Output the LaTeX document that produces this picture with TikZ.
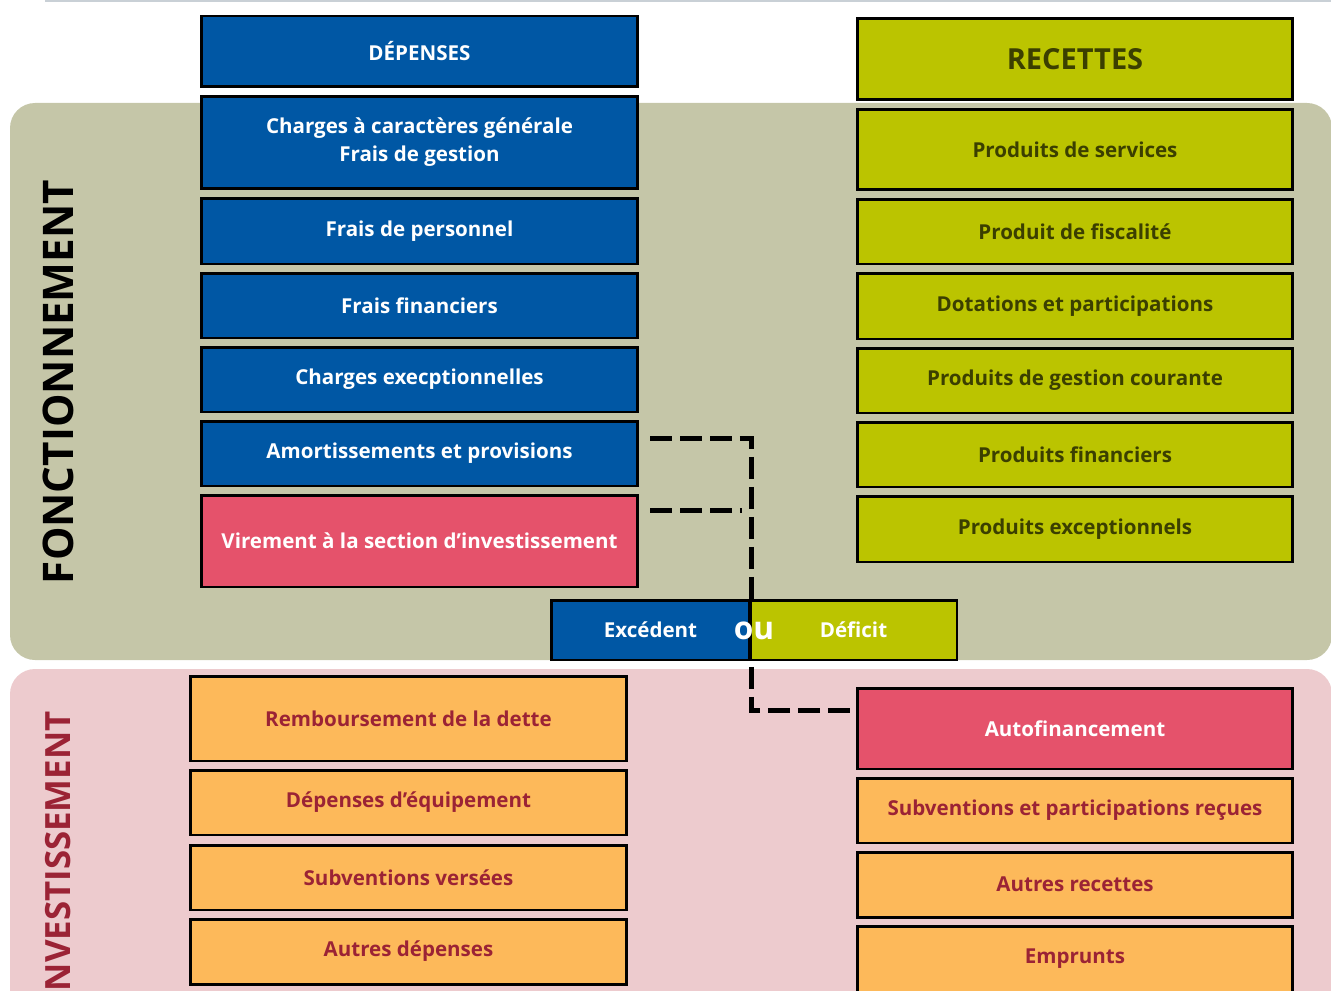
\documentclass[tikz,border=0pt]{standalone}
\usepackage{fontspec}
\setmainfont{Open Sans}
\usepackage{tikz}
\usetikzlibrary{positioning}

\definecolor{bleu}{HTML}{0057A4}
\definecolor{olive}{HTML}{BBC400}
\definecolor{olivetxt}{HTML}{3B3F00}
\definecolor{rose}{HTML}{E5526B}
\definecolor{orangeclair}{HTML}{FDB95A}
\definecolor{bordeaux}{HTML}{9B2335}
\definecolor{fondfonct}{HTML}{C5C6A8}
\definecolor{fondinv}{HTML}{EDCBCE}
\definecolor{filet}{HTML}{C9D0D6}

\begin{document}
\begin{tikzpicture}[x=0.02cm,y=-0.02cm,
  boite/.style={draw=black, line width=1.7pt, inner sep=0pt, align=center,
    font=\bfseries\fontsize{11.7}{16}\selectfont},
  gauche/.style={boite, minimum width=8.74cm},
  droite/.style={boite, minimum width=8.72cm},
  dep/.style={gauche, fill=bleu, text=white},
  rec/.style={droite, fill=olive, text=olivetxt},
  invg/.style={gauche, fill=orangeclair, text=bordeaux},
  invd/.style={droite, fill=orangeclair, text=bordeaux},
  tiret/.style={line width=2.85pt, dash pattern=on 0.44cm off 0.16cm}]
\useasboundingbox (0,0) rectangle (1331,990);
\draw[filet, line width=1pt] (45,1) -- (1331,1);
\fill[fondfonct, rounded corners=0.5cm] (10,103) rectangle (1332,660);
\fill[fondinv, rounded corners=0.5cm] (10,669) rectangle (1332,1040);
\node[rotate=90, font=\bfseries\fontsize{24}{28}\selectfont] (fonct) at (58,382) {FONCTIONNEMENT};
\node[rotate=90, text=bordeaux, font=\bfseries\fontsize{19.8}{24}\selectfont] (inv) at (58,857) {INVESTISSEMENT};

\node[dep, minimum height=1.42cm] (dep) at (419.5,51.5) {DÉPENSES};
\node[dep, minimum height=1.86cm] (chg) at (419.5,142.5) {Charges à caractères générale\\Frais de gestion};
\node[dep, minimum height=1.32cm] (pers) at (419.5,231) {Frais de personnel};
\node[dep, minimum height=1.3cm] (fin) at (419.5,305.5) {Frais financiers};
\node[dep, minimum height=1.3cm] (exc) at (419.5,379.5) {Charges execptionnelles};
\node[dep, minimum height=1.3cm] (amort) at (419.5,453.5) {Amortissements et provisions};
\node[gauche, fill=rose, text=white, minimum height=1.84cm] (vir) at (419.5,541) {Virement à la section d’investissement};

\node[rec, minimum height=1.64cm, font=\bfseries\fontsize{16.5}{20}\selectfont] (rec) at (1075,59) {RECETTES};
\node[rec, minimum height=1.62cm] (serv) at (1075,149.5) {Produits de services};
\node[rec, minimum height=1.3cm] (fisc) at (1075,231.5) {Produit de fiscalité};
\node[rec, minimum height=1.32cm] (dot) at (1075,306) {Dotations et participations};
\node[rec, minimum height=1.3cm] (gest) at (1075,380.5) {Produits de gestion courante};
\node[rec, minimum height=1.3cm] (pfin) at (1075,454.5) {Produits financiers};
\node[rec, minimum height=1.32cm] (pexc) at (1075,529) {Produits exceptionnels};

\node[invg, minimum height=1.7cm] (remb) at (408.5,718.5) {Remboursement de la dette};
\node[invg, minimum height=1.3cm] (equip) at (408.5,802.5) {Dépenses d’équipement};
\node[invg, minimum height=1.3cm] (subv) at (408.5,877.5) {Subventions versées};
\node[invg, minimum height=1.3cm] (autdep) at (408.5,951.5) {Autres dépenses};

\node[droite, fill=rose, text=white, minimum height=1.62cm] (autof) at (1075,728.5) {Autofinancement};
\node[invd, minimum height=1.3cm] (subrec) at (1075,810.5) {Subventions et participations reçues};
\node[invd, minimum height=1.3cm] (autrec) at (1075,884.5) {Autres recettes};
\node[invd, minimum height=1.32cm] (empr) at (1075,959) {Emprunts};

\coordinate (a1) at (650,438);
\coordinate (coude) at (751,438);
\coordinate (a2) at (650,510);
\coordinate (bas) at (751,710);
\draw[tiret] (a1) -- (coude) -- (bas) -- (bas -| autof.west);
\draw[tiret] (a2) -- (742,510);

\node[boite, fill=bleu, text=white, minimum width=3.98cm, minimum height=1.2cm] (exced) at (650.5,630) {Excédent};
\node[boite, fill=olive, text=white, minimum width=4.14cm, minimum height=1.2cm] (defic) at (853.5,630) {Déficit};
\node[text=white, font=\bfseries\fontsize{18}{22}\selectfont, inner sep=0pt] (ou) at (754,631) {ou};
\end{tikzpicture}
\end{document}
